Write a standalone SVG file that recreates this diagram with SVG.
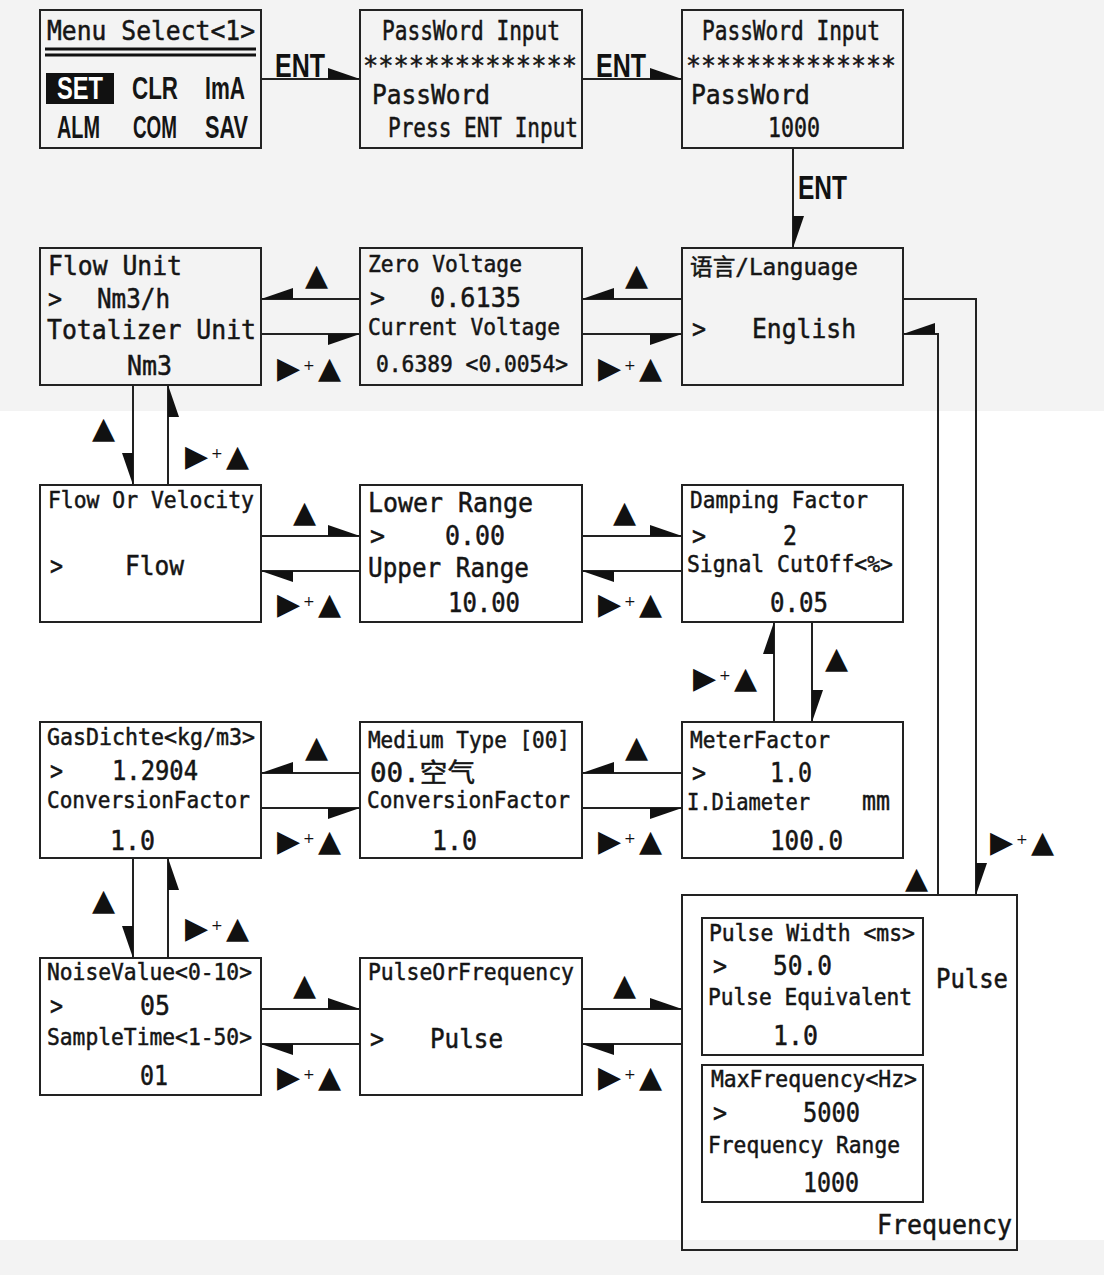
<svg xmlns="http://www.w3.org/2000/svg" width="1104" height="1275" viewBox="0 0 1104 1275">
<style>
.box{fill:none;stroke:#222;stroke-width:2}
.ln{fill:none;stroke:#222;stroke-width:2}
.wd{fill:#111;stroke:none}
.t{font-family:"DejaVu Sans Mono","Noto Sans CJK SC",monospace;fill:#151515;stroke:#151515;stroke-width:0.5;font-size:26px}
.s{font-size:23px}
.n{font-family:"Liberation Sans",Arial,sans-serif;fill:#151515;font-size:31px;font-weight:bold}
.e{font-family:"Liberation Sans",Arial,sans-serif;fill:#111;font-size:34px;font-weight:bold}
.k{font-family:"DejaVu Sans",sans-serif;fill:#111;font-size:30px}
.p{font-size:14px}
</style>
<rect x="0" y="0" width="1104" height="411" fill="#f3f3f3"/>
<rect x="0" y="411" width="1104" height="829" fill="#ffffff"/>
<rect x="0" y="1240" width="1104" height="35" fill="#f3f3f3"/>

<g id="connectors">
  <path class="ln" d="M261,79 H360 M582,79 H682 M793,148 V248"/>
  <polygon class="wd" points="360,79 328,79 328,68"/>
  <polygon class="wd" points="682,79 650,79 650,68"/>
  <polygon class="wd" points="793,248 793,216 804,216"/>
  <!-- row 2 -->
  <path class="ln" d="M261,299 H360 M261,334 H360 M582,299 H682 M582,334 H682"/>
  <polygon class="wd" points="261,299 293,299 293,288"/>
  <polygon class="wd" points="360,334 328,334 328,345"/>
  <polygon class="wd" points="582,299 614,299 614,288"/>
  <polygon class="wd" points="682,334 650,334 650,345"/>
  <!-- row 3 -->
  <path class="ln" d="M261,536 H360 M261,571 H360 M582,536 H682 M582,571 H682"/>
  <polygon class="wd" points="360,536 328,536 328,525"/>
  <polygon class="wd" points="261,571 293,571 293,582"/>
  <polygon class="wd" points="682,536 650,536 650,525"/>
  <polygon class="wd" points="582,571 614,571 614,582"/>
  <!-- row 4 -->
  <path class="ln" d="M261,773 H360 M261,808 H360 M582,773 H682 M582,808 H682"/>
  <polygon class="wd" points="261,773 293,773 293,762"/>
  <polygon class="wd" points="360,808 328,808 328,819"/>
  <polygon class="wd" points="582,773 614,773 614,762"/>
  <polygon class="wd" points="682,808 650,808 650,819"/>
  <!-- row 5 -->
  <path class="ln" d="M261,1009 H360 M261,1044 H360 M582,1009 H682 M582,1044 H682"/>
  <polygon class="wd" points="360,1009 328,1009 328,998"/>
  <polygon class="wd" points="261,1044 293,1044 293,1055"/>
  <polygon class="wd" points="682,1009 650,1009 650,998"/>
  <polygon class="wd" points="582,1044 614,1044 614,1055"/>
  <!-- verticals -->
  <path class="ln" d="M133,385 V485 M168,385 V485 M133,858 V958 M168,858 V958 M774,622 V722 M812,622 V722"/>
  <polygon class="wd" points="133,485 133,453 122,453"/>
  <polygon class="wd" points="168,385 168,417 179,417"/>
  <polygon class="wd" points="133,958 133,926 122,926"/>
  <polygon class="wd" points="168,858 168,890 179,890"/>
  <polygon class="wd" points="774,622 774,654 763,654"/>
  <polygon class="wd" points="812,722 812,690 823,690"/>
  <!-- language loop -->
  <path class="ln" d="M903,299 H976 V895 M938,895 V334 H903"/>
  <polygon class="wd" points="976,895 976,863 987,863"/>
  <polygon class="wd" points="903,334 935,334 935,323"/>
  <!-- labels -->
  <text class="e" x="275" y="77" textLength="50" lengthAdjust="spacingAndGlyphs">ENT</text>
  <text class="e" x="596" y="77" textLength="50" lengthAdjust="spacingAndGlyphs">ENT</text>
  <text class="e" x="798" y="199" textLength="49" lengthAdjust="spacingAndGlyphs">ENT</text>

  <text class="k" x="305" y="285">▲</text>
  <text class="k" x="625" y="285">▲</text>
  <text class="k" x="293" y="522">▲</text>
  <text class="k" x="613" y="522">▲</text>
  <text class="k" x="305" y="757">▲</text>
  <text class="k" x="625" y="757">▲</text>
  <text class="k" x="293" y="995">▲</text>
  <text class="k" x="613" y="995">▲</text>
  <text class="k" x="92" y="438">▲</text>
  <text class="k" x="92" y="910">▲</text>
  <text class="k" x="825" y="668">▲</text>
  <text class="k" x="905" y="888">▲</text>

  <text class="k" y="378"><tspan x="277">▶</tspan><tspan class="p" x="303" dy="-8">+</tspan><tspan x="318" dy="8">▲</tspan></text>
  <text class="k" y="378"><tspan x="598">▶</tspan><tspan class="p" x="624" dy="-8">+</tspan><tspan x="639" dy="8">▲</tspan></text>
  <text class="k" y="614"><tspan x="277">▶</tspan><tspan class="p" x="303" dy="-8">+</tspan><tspan x="318" dy="8">▲</tspan></text>
  <text class="k" y="614"><tspan x="598">▶</tspan><tspan class="p" x="624" dy="-8">+</tspan><tspan x="639" dy="8">▲</tspan></text>
  <text class="k" y="851"><tspan x="277">▶</tspan><tspan class="p" x="303" dy="-8">+</tspan><tspan x="318" dy="8">▲</tspan></text>
  <text class="k" y="851"><tspan x="598">▶</tspan><tspan class="p" x="624" dy="-8">+</tspan><tspan x="639" dy="8">▲</tspan></text>
  <text class="k" y="1087"><tspan x="277">▶</tspan><tspan class="p" x="303" dy="-8">+</tspan><tspan x="318" dy="8">▲</tspan></text>
  <text class="k" y="1087"><tspan x="598">▶</tspan><tspan class="p" x="624" dy="-8">+</tspan><tspan x="639" dy="8">▲</tspan></text>
  <text class="k" y="466"><tspan x="185">▶</tspan><tspan class="p" x="211" dy="-8">+</tspan><tspan x="226" dy="8">▲</tspan></text>
  <text class="k" y="938"><tspan x="185">▶</tspan><tspan class="p" x="211" dy="-8">+</tspan><tspan x="226" dy="8">▲</tspan></text>
  <text class="k" y="688"><tspan x="693">▶</tspan><tspan class="p" x="719" dy="-8">+</tspan><tspan x="734" dy="8">▲</tspan></text>
  <text class="k" y="852"><tspan x="990">▶</tspan><tspan class="p" x="1016" dy="-8">+</tspan><tspan x="1031" dy="8">▲</tspan></text>
</g>

<g id="menu-select">
  <rect class="box" x="40" y="10" width="221" height="138"/>
  <text class="t" x="47" y="40" font-size="27" textLength="208" lengthAdjust="spacingAndGlyphs">Menu Select&lt;1&gt;</text>
  <path d="M45,49 H256 M45,55 H256" stroke="#111" stroke-width="3"/>
  <rect x="46" y="73" width="68" height="31" fill="#111"/>
  <text class="n" x="57" y="99" style="fill:#fff" textLength="46" lengthAdjust="spacingAndGlyphs">SET</text>
  <text class="n" x="132" y="99" textLength="46" lengthAdjust="spacingAndGlyphs">CLR</text>
  <text class="n" x="205" y="99" textLength="40" lengthAdjust="spacingAndGlyphs">ImA</text>
  <text class="n" x="57" y="138" textLength="43" lengthAdjust="spacingAndGlyphs">ALM</text>
  <text class="n" x="133" y="138" textLength="44" lengthAdjust="spacingAndGlyphs">COM</text>
  <text class="n" x="205" y="138" textLength="43" lengthAdjust="spacingAndGlyphs">SAV</text>
</g>

<g id="password-input-1">
  <rect class="box" x="360" y="10" width="222" height="138"/>
  <text class="t" x="382" y="40" font-size="24" textLength="178" lengthAdjust="spacingAndGlyphs">PassWord Input</text>
  <text class="t" x="363" y="75" font-size="22" textLength="214" lengthAdjust="spacingAndGlyphs">**************</text>
  <text class="t" x="372" y="104" font-size="25" textLength="118" lengthAdjust="spacingAndGlyphs">PassWord</text>
  <text class="t" x="388" y="137" font-size="24" textLength="190" lengthAdjust="spacingAndGlyphs">Press ENT Input</text>
</g>

<g id="password-input-2">
  <rect class="box" x="682" y="10" width="221" height="138"/>
  <text class="t" x="702" y="40" font-size="24" textLength="178" lengthAdjust="spacingAndGlyphs">PassWord Input</text>
  <text class="t" x="686" y="75" font-size="22" textLength="210" lengthAdjust="spacingAndGlyphs">**************</text>
  <text class="t" x="691" y="104" font-size="25" textLength="119" lengthAdjust="spacingAndGlyphs">PassWord</text>
  <text class="t" x="768" y="137" font-size="24" textLength="52" lengthAdjust="spacingAndGlyphs">1000</text>
</g>

<g id="flow-unit">
  <rect class="box" x="40" y="248" width="221" height="137"/>
  <text class="t" x="48" y="275" textLength="134" lengthAdjust="spacingAndGlyphs">Flow Unit</text>
  <text class="t" x="48" y="308" textLength="14" lengthAdjust="spacingAndGlyphs">&gt;</text>
  <text class="t" x="97" y="308" textLength="73" lengthAdjust="spacingAndGlyphs">Nm3/h</text>
  <text class="t" x="47" y="339" textLength="209" lengthAdjust="spacingAndGlyphs">Totalizer Unit</text>
  <text class="t" x="127" y="375" textLength="45" lengthAdjust="spacingAndGlyphs">Nm3</text>
</g>

<g id="zero-voltage">
  <rect class="box" x="360" y="248" width="222" height="137"/>
  <text class="t s" x="368" y="272" textLength="154" lengthAdjust="spacingAndGlyphs">Zero Voltage</text>
  <text class="t" x="370" y="307" textLength="15" lengthAdjust="spacingAndGlyphs">&gt;</text>
  <text class="t" x="430" y="307" textLength="91" lengthAdjust="spacingAndGlyphs">0.6135</text>
  <text class="t s" x="368" y="335" textLength="192" lengthAdjust="spacingAndGlyphs">Current Voltage</text>
  <text class="t s" x="376" y="372" textLength="192" lengthAdjust="spacingAndGlyphs">0.6389 &lt;0.0054&gt;</text>
</g>

<g id="language">
  <rect class="box" x="682" y="248" width="221" height="137"/>
  <text class="t s" x="690" y="275" textLength="168" lengthAdjust="spacingAndGlyphs">语言/Language</text>
  <text class="t" x="692" y="338" textLength="14" lengthAdjust="spacingAndGlyphs">&gt;</text>
  <text class="t" x="752" y="338" textLength="104" lengthAdjust="spacingAndGlyphs">English</text>
</g>

<g id="flow-or-velocity">
  <rect class="box" x="40" y="485" width="221" height="137"/>
  <text class="t s" x="48" y="508" textLength="206" lengthAdjust="spacingAndGlyphs">Flow Or Velocity</text>
  <text class="t" x="50" y="575" textLength="13" lengthAdjust="spacingAndGlyphs">&gt;</text>
  <text class="t" x="125" y="575" textLength="59" lengthAdjust="spacingAndGlyphs">Flow</text>
</g>

<g id="range">
  <rect class="box" x="360" y="485" width="222" height="137"/>
  <text class="t" x="368" y="512" textLength="165" lengthAdjust="spacingAndGlyphs">Lower Range</text>
  <text class="t" x="370" y="545" textLength="15" lengthAdjust="spacingAndGlyphs">&gt;</text>
  <text class="t" x="445" y="545" textLength="60" lengthAdjust="spacingAndGlyphs">0.00</text>
  <text class="t" x="368" y="577" textLength="161" lengthAdjust="spacingAndGlyphs">Upper Range</text>
  <text class="t" x="448" y="612" textLength="72" lengthAdjust="spacingAndGlyphs">10.00</text>
</g>

<g id="damping-factor">
  <rect class="box" x="682" y="485" width="221" height="137"/>
  <text class="t s" x="690" y="508" textLength="178" lengthAdjust="spacingAndGlyphs">Damping Factor</text>
  <text class="t" x="692" y="545" textLength="14" lengthAdjust="spacingAndGlyphs">&gt;</text>
  <text class="t" x="783" y="545" textLength="14" lengthAdjust="spacingAndGlyphs">2</text>
  <text class="t s" x="687" y="572" textLength="206" lengthAdjust="spacingAndGlyphs">Signal CutOff&lt;%&gt;</text>
  <text class="t" x="770" y="612" textLength="58" lengthAdjust="spacingAndGlyphs">0.05</text>
</g>

<g id="gas-density">
  <rect class="box" x="40" y="722" width="221" height="136"/>
  <text class="t s" x="47" y="745" textLength="208" lengthAdjust="spacingAndGlyphs">GasDichte&lt;kg/m3&gt;</text>
  <text class="t" x="50" y="780" textLength="13" lengthAdjust="spacingAndGlyphs">&gt;</text>
  <text class="t" x="112" y="780" textLength="86" lengthAdjust="spacingAndGlyphs">1.2904</text>
  <text class="t s" x="47" y="808" textLength="203" lengthAdjust="spacingAndGlyphs">ConversionFactor</text>
  <text class="t" x="110" y="850" textLength="45" lengthAdjust="spacingAndGlyphs">1.0</text>
</g>

<g id="medium-type">
  <rect class="box" x="360" y="722" width="222" height="136"/>
  <text class="t s" x="368" y="748" textLength="202" lengthAdjust="spacingAndGlyphs">Medium Type [00]</text>
  <text class="t" x="370" y="782" textLength="105" lengthAdjust="spacingAndGlyphs">00.空气</text>
  <text class="t s" x="367" y="808" textLength="203" lengthAdjust="spacingAndGlyphs">ConversionFactor</text>
  <text class="t" x="432" y="850" textLength="45" lengthAdjust="spacingAndGlyphs">1.0</text>
</g>

<g id="meter-factor">
  <rect class="box" x="682" y="722" width="221" height="136"/>
  <text class="t s" x="690" y="748" textLength="140" lengthAdjust="spacingAndGlyphs">MeterFactor</text>
  <text class="t" x="692" y="782" textLength="14" lengthAdjust="spacingAndGlyphs">&gt;</text>
  <text class="t" x="770" y="782" textLength="42" lengthAdjust="spacingAndGlyphs">1.0</text>
  <text class="t s" x="687" y="810" textLength="123" lengthAdjust="spacingAndGlyphs">I.Diameter</text>
  <text class="t" x="862" y="810" font-size="20" textLength="28" lengthAdjust="spacingAndGlyphs">mm</text>
  <text class="t" x="770" y="850" textLength="73" lengthAdjust="spacingAndGlyphs">100.0</text>
</g>

<g id="noise-value">
  <rect class="box" x="40" y="958" width="221" height="137"/>
  <text class="t s" x="47" y="980" textLength="205" lengthAdjust="spacingAndGlyphs">NoiseValue&lt;0-10&gt;</text>
  <text class="t" x="50" y="1015" textLength="13" lengthAdjust="spacingAndGlyphs">&gt;</text>
  <text class="t" x="140" y="1015" textLength="30" lengthAdjust="spacingAndGlyphs">05</text>
  <text class="t s" x="47" y="1045" textLength="205" lengthAdjust="spacingAndGlyphs">SampleTime&lt;1-50&gt;</text>
  <text class="t" x="140" y="1085" textLength="28" lengthAdjust="spacingAndGlyphs">01</text>
</g>

<g id="pulse-or-frequency">
  <rect class="box" x="360" y="958" width="222" height="137"/>
  <text class="t s" x="368" y="980" textLength="206" lengthAdjust="spacingAndGlyphs">PulseOrFrequency</text>
  <text class="t" x="370" y="1048" textLength="14" lengthAdjust="spacingAndGlyphs">&gt;</text>
  <text class="t" x="430" y="1048" textLength="73" lengthAdjust="spacingAndGlyphs">Pulse</text>
</g>

<g id="output-settings">
  <rect class="box" x="682" y="895" width="335" height="355"/>
  <text class="t" x="936" y="988" textLength="72" lengthAdjust="spacingAndGlyphs">Pulse</text>
  <text class="t" x="877" y="1234" textLength="135" lengthAdjust="spacingAndGlyphs">Frequency</text>
</g>

<g id="pulse-width">
  <rect class="box" x="702" y="918" width="221" height="137"/>
  <text class="t s" x="709" y="941" textLength="206" lengthAdjust="spacingAndGlyphs">Pulse Width &lt;ms&gt;</text>
  <text class="t" x="713" y="975" textLength="14" lengthAdjust="spacingAndGlyphs">&gt;</text>
  <text class="t" x="773" y="975" textLength="59" lengthAdjust="spacingAndGlyphs">50.0</text>
  <text class="t s" x="708" y="1005" textLength="204" lengthAdjust="spacingAndGlyphs">Pulse Equivalent</text>
  <text class="t" x="773" y="1045" textLength="45" lengthAdjust="spacingAndGlyphs">1.0</text>
</g>

<g id="max-frequency">
  <rect class="box" x="702" y="1065" width="221" height="137"/>
  <text class="t s" x="711" y="1087" textLength="206" lengthAdjust="spacingAndGlyphs">MaxFrequency&lt;Hz&gt;</text>
  <text class="t" x="713" y="1122" textLength="14" lengthAdjust="spacingAndGlyphs">&gt;</text>
  <text class="t" x="803" y="1122" textLength="57" lengthAdjust="spacingAndGlyphs">5000</text>
  <text class="t s" x="708" y="1153" textLength="192" lengthAdjust="spacingAndGlyphs">Frequency Range</text>
  <text class="t" x="803" y="1192" textLength="56" lengthAdjust="spacingAndGlyphs">1000</text>
</g>
</svg>
